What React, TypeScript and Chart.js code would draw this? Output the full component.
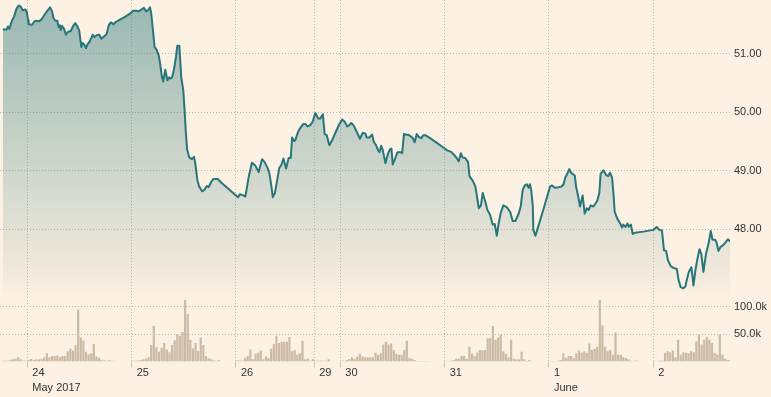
import React, { useEffect, useRef } from 'react';
import { Chart, registerables } from 'chart.js';

Chart.register(...registerables);

// ---- x axis: trading-session slots (one slot = one volume bar) ----
const dayTicks = [0, 40, 80, 110, 120, 160, 200, 240];
const dayLabels = [['24', 'May 2017'], ['25'], ['26'], ['29'], ['30'], ['31'], ['1', 'June'], ['2']];
const xMin = -10.47;
const xMax = 269.4;

// ---- y axes ----
const priceTicks = [48, 49, 50, 51];
const priceMin = 46.79;
const priceMax = 51.924;
const volumeTicks = [50000, 100000];
const volumeMax = 112600;

// ---- price series (slot time, price) ----
const priceTimes = [
  -9.4, -7.9, -7.4, -6.9, -5.9, -5.1, -4.1, -3.3, -2.5, -1.8,
  -0.8, -0.2, 0.3, 0.5, 1.8, 2.8, 3.6, 4.6, 5.6, 6.7,
  7.4, 8.7, 9.5, 10, 10.7, 11.5, 12, 12.5, 12.8, 13.3,
  14.1, 14.8, 15.6, 16.6, 17.6, 18.4, 19.2, 19.9, 20.7, 21.2,
  22, 22.5, 23, 24, 25.1, 25.8, 26.6, 27.6, 28.4, 29.4,
  30.4, 31.2, 32, 33, 34, 35.5, 37.6, 39.6, 40.6, 41.9,
  42.7, 43.7, 44.7, 45.5, 46.3, 47, 47.5, 48.3, 48.8, 49.6,
  50.4, 50.9, 51.6, 52.1, 52.9, 53.7, 54.4, 55, 55.5, 56.2,
  57, 57.5, 58.3, 59, 59.8, 60.3, 60.8, 61.3, 62.1, 63.1,
  63.9, 64.4, 65.2, 65.9, 67, 68, 68.8, 69.5, 70.5, 71.3,
  73.1, 74.1, 77.7, 80.8, 81.5, 82.8, 83.6, 84.9, 86.1, 87.4,
  88.7, 90, 91, 92, 92.8, 93.6, 94.1, 94.9, 95.6, 96.6,
  97.4, 98.2, 99.2, 100.2, 101, 101.5, 102.3, 102.8, 103.8, 104.6,
  105.8, 106.6, 107.4, 108.4, 109.4, 110.4, 111.5, 112.2, 113.3, 114,
  114.8, 115.8, 116.8, 119.4, 120.7, 121.7, 122.7, 123.4, 124.2, 125.2,
  126.3, 127.5, 128.6, 129.6, 130.1, 131.1, 132.2, 132.9, 133.7, 134.5,
  135, 135.7, 136.3, 137.3, 138.3, 139.1, 139.6, 140.1, 141.1, 141.9,
  143.2, 143.7, 144.4, 145.2, 146, 146.7, 147.8, 148.5, 149.3, 150.1,
  151.1, 151.8, 152.6, 154.4, 157, 159.5, 161, 162.3, 163.3, 164.6,
  165.4, 166.2, 166.9, 167.9, 169, 169.5, 170.8, 171.8, 173.1, 173.9,
  174.6, 175.6, 176.4, 177.4, 178.4, 179.2, 180, 180.7, 181.5, 182.5,
  183.8, 185.1, 186.1, 187.1, 188.4, 189.2, 189.9, 190.7, 191.5, 192.2,
  192.7, 193.2, 193.8, 194, 194.8, 195.5, 197.8, 200.4, 201.2, 202.2,
  203.7, 204.7, 205.5, 206.3, 207, 207.8, 208.6, 209.9, 210.4, 211.2,
  211.9, 212.9, 213.7, 214.5, 215.2, 216, 217, 217.8, 218.5, 219.3,
  219.8, 220.9, 221.9, 222.7, 223.4, 224.2, 224.7, 225.2, 226.2, 227.3,
  228, 228.5, 229.3, 230.1, 230.6, 231.4, 232.1, 232.9, 236.2, 240,
  241.3, 242.3, 243.3, 244.1, 244.9, 245.6, 246.7, 247.7, 249, 249.7,
  250.5, 251.5, 252.3, 252.8, 253.6, 254.6, 255.4, 256.1, 256.9, 257.7,
  258.4, 259.2, 260.2, 261.2, 262, 262.7, 263.7, 264.2, 265, 265.8,
  266.8, 267.8, 268.6, 269.4,
];
const prices = [
  51.42, 51.42, 51.47, 51.43, 51.57, 51.64, 51.78, 51.83, 51.81, 51.75,
  51.76, 51.72, 51.58, 51.51, 51.50, 51.56, 51.57, 51.56, 51.60, 51.68,
  51.72, 51.80, 51.73, 51.62, 51.57, 51.57, 51.46, 51.49, 51.41, 51.48,
  51.43, 51.33, 51.38, 51.39, 51.48, 51.53, 51.47, 51.40, 51.12, 51.19,
  51.15, 51.10, 51.16, 51.22, 51.33, 51.29, 51.32, 51.33, 51.26, 51.30,
  51.34, 51.49, 51.54, 51.51, 51.55, 51.59, 51.64, 51.70, 51.74, 51.74,
  51.73, 51.76, 51.79, 51.73, 51.75, 51.80, 51.70, 51.35, 51.12, 51.07,
  50.97, 50.84, 50.61, 50.53, 50.73, 50.55, 50.60, 50.58, 50.60, 50.73,
  50.95, 51.14, 51.14, 50.61, 50.38, 50.04, 49.64, 49.36, 49.23, 49.20,
  49.24, 49.13, 48.84, 48.73, 48.65, 48.68, 48.74, 48.72, 48.81, 48.86,
  48.86, 48.81, 48.67, 48.55, 48.60, 48.58, 48.56, 48.90, 49.14, 49.09,
  48.98, 49.20, 49.15, 49.06, 48.96, 48.73, 48.55, 48.62, 48.79, 49.05,
  49.10, 49.21, 49.04, 49.22, 49.22, 49.57, 49.51, 49.53, 49.67, 49.73,
  49.80, 49.80, 49.76, 49.78, 49.84, 49.99, 49.90, 49.89, 49.97, 49.63,
  49.61, 49.44, 49.52, 49.78, 49.88, 49.84, 49.76, 49.78, 49.82, 49.77,
  49.67, 49.55, 49.65, 49.64, 49.57, 49.57, 49.62, 49.49, 49.44, 49.35,
  49.32, 49.43, 49.35, 49.13, 49.30, 49.37, 49.38, 49.11, 49.22, 49.32,
  49.32, 49.30, 49.63, 49.62, 49.62, 49.60, 49.56, 49.49, 49.63, 49.58,
  49.56, 49.61, 49.61, 49.56, 49.48, 49.40, 49.35, 49.33, 49.29, 49.22,
  49.16, 49.30, 49.23, 49.22, 49.15, 48.91, 48.83, 48.73, 48.36, 48.41,
  48.62, 48.47, 48.33, 48.25, 48.08, 48.09, 47.89, 48.10, 48.28, 48.41,
  48.38, 48.30, 48.14, 48.14, 48.27, 48.40, 48.67, 48.75, 48.77, 48.71,
  48.77, 48.67, 48.39, 47.99, 47.89, 47.99, 48.33, 48.73, 48.75, 48.71,
  48.72, 48.73, 48.76, 48.89, 48.95, 49.03, 48.96, 48.92, 48.73, 48.56,
  48.39, 48.58, 48.27, 48.36, 48.33, 48.41, 48.39, 48.44, 48.49, 48.62,
  48.95, 49.01, 48.93, 48.91, 48.97, 48.88, 48.62, 48.30, 48.18, 48.10,
  48.03, 48.08, 48.04, 48.10, 48.04, 48.08, 47.92, 47.94, 47.96, 47.99,
  48.04, 47.99, 47.98, 47.64, 47.63, 47.47, 47.37, 47.34, 47.32, 47.13,
  47.01, 46.99, 47.02, 47.13, 47.27, 47.35, 47.04, 47.29, 47.49, 47.66,
  47.58, 47.27, 47.58, 47.76, 47.97, 47.82, 47.82, 47.78, 47.63, 47.70,
  47.73, 47.78, 47.83, 47.79,
];

// ---- volume per session slot, thousands of shares ----
const volumeStarts = [-10, 0, 40, 80, 110, 120, 160, 200, 240];
const vol23 = [1.5, 1.5, 1.5, 3, 4, 5, 8, 4, 2, 1.5];
const vol24 = [2.7, 4.6, 2.7, 4, 4, 4.6, 7.6, 15, 7.6, 10, 10, 11, 7.6, 10, 10, 18.6, 23.5, 20, 29.6, 95, 44, 38, 18, 13, 15, 32, 9, 7, 3, 2, 1.5, 2.5, 1.5, 1];
const vol25 = [1.5, 1.5, 2, 2.7, 4, 5, 7.6, 30, 65, 26, 18, 25, 34, 22, 17, 30, 39, 50, 47, 54, 128, 87, 40, 24, 34, 19, 44, 30, 10, 6, 4, 2.5, 1.5, 2.5];
const vol26 = [2, 2, 2, 6.4, 10, 22, 4, 14, 16, 20, 4, 9, 6.4, 23.5, 32, 47, 34, 36, 36, 36, 45, 18.6, 21, 12.5, 15, 38, 4, 5, 1.5, 4];
const vol29 = [1.2, 1.2, 1.2, 1.2, 1.2, 4];
const vol30 = [1.5, 1.5, 2.7, 4.6, 7.6, 5, 9, 14, 9, 7.6, 7.6, 7.6, 7.6, 16, 12.5, 15, 31, 36, 31, 33, 21, 14, 12.5, 12.5, 21, 38, 6.4, 5, 2.7, 1, 1, 1, 1, 0.8];
const vol31 = [0.8, 1, 1.5, 2.7, 5, 5, 10, 10, 5, 27, 14, 10, 16, 21, 20, 21, 42, 43, 65, 40, 44, 49, 18.6, 14, 8, 40, 5, 4, 4, 18, 4, 1, 2.7, 1];
const volJun1 = [0.8, 1, 1, 1.5, 2.7, 15, 6.4, 10, 10, 6.4, 15, 20, 16, 18.6, 16, 33, 21, 23.5, 27, 114, 66, 27, 18.6, 21, 12.5, 53, 12.5, 12.5, 7.6, 6.4, 4, 1.5, 1, 2];
const volJun2 = [1, 1, 1.5, 1.5, 16, 18.6, 17, 20, 8, 40, 12.5, 17, 16, 15, 18.6, 17, 37, 49, 31, 40, 45, 40, 34, 16, 13, 49, 13, 5, 2.7, 2.7];
const volumeDays = [vol23, vol24, vol25, vol26, vol29, vol30, vol31, volJun1, volJun2];

const BG = '#fdf1e3';
const LINE = '#26767b';
const GRID = '#c4b9ad';
const TICK = '#c9c0b6';
const VOL = '#ccbaa6';
const TEXT = '#333333';
const FONT = "'Liberation Sans', Arial, sans-serif";

const fitRightAxis = (s: any) => {
  s.width = 41;
  s.paddingTop = 0;
  s.paddingBottom = 0;
};

export default function App() {
  const ref = useRef<HTMLCanvasElement>(null);

  useEffect(() => {
    document.body.style.margin = '0';
    document.body.style.background = BG;
    const canvas = ref.current;
    if (!canvas) return;

    const priceData = priceTimes.map((t, i) => ({ x: t, y: prices[i] }));
    const volumeData: { x: number; y: number }[] = [];
    volumeDays.forEach((vols, d) => {
      vols.forEach((v, i) => volumeData.push({ x: volumeStarts[d] + i + 0.5, y: v * 1000 }));
    });

    const chart = new Chart(canvas, {
      type: 'line',
      data: {
        datasets: [
          {
            type: 'line',
            data: priceData,
            xAxisID: 'x',
            yAxisID: 'y',
            borderColor: LINE,
            borderWidth: 2,
            pointRadius: 0,
            tension: 0,
            borderJoinStyle: 'round',
            fill: 'start',
            order: 0,
            backgroundColor: (ctx: any) => {
              const chartRef = ctx.chart;
              const area = chartRef.chartArea;
              const ys = chartRef.scales && chartRef.scales.y;
              if (!area || !ys) return 'rgba(0,0,0,0)';
              const g = chartRef.ctx.createLinearGradient(0, area.top, 0, ys.bottom);
              g.addColorStop(0, 'rgba(38,118,123,0.47)');
              g.addColorStop(0.55, 'rgba(38,118,123,0.22)');
              g.addColorStop(0.73, 'rgba(38,118,123,0.14)');
              g.addColorStop(0.87, 'rgba(38,118,123,0.08)');
              g.addColorStop(1, 'rgba(38,118,123,0.0)');
              return g;
            },
          } as any,
          {
            type: 'bar',
            data: volumeData,
            xAxisID: 'x',
            yAxisID: 'v',
            backgroundColor: VOL,
            barPercentage: 1,
            categoryPercentage: 0.85,
            order: 1,
          } as any,
        ],
      },
      options: {
        animation: false,
        responsive: false,
        maintainAspectRatio: false,
        layout: { padding: 0 },
        plugins: { legend: { display: false }, tooltip: { enabled: false } },
        scales: {
          x: {
            type: 'linear',
            position: 'bottom',
            offset: false,
            min: xMin,
            max: xMax,
            afterBuildTicks: (s: any) => {
              s.ticks = dayTicks.map((v) => ({ value: v }));
            },
            afterFit: (s: any) => {
              s.height = 35.5;
              s.paddingLeft = 0;
              s.paddingRight = 0;
            },
            ticks: {
              autoSkip: false,
              maxRotation: 0,
              minRotation: 0,
              align: 'start',
              labelOffset: 5,
              padding: -2,
              color: TEXT,
              font: { family: FONT, size: 11, lineHeight: 1.36 },
              callback: (_v: any, i: number) => dayLabels[i],
            },
            grid: {
              offset: false,
              color: GRID,
              lineWidth: 1,
              drawTicks: true,
              tickLength: 6,
              tickColor: TICK,
              tickBorderDash: [],
            },
            border: { display: false, dash: [1, 2] },
          },
          y: {
            type: 'linear',
            position: 'right',
            stack: 'right',
            stackWeight: 300,
            weight: 0,
            min: priceMin,
            max: priceMax,
            afterBuildTicks: (s: any) => {
              s.ticks = priceTicks.map((v) => ({ value: v }));
            },
            afterFit: fitRightAxis,
            ticks: {
              padding: 4,
              color: TEXT,
              font: { family: FONT, size: 11 },
              callback: (v: any) => Number(v).toFixed(2),
            },
            grid: { color: GRID, lineWidth: 1, drawTicks: false },
            border: { display: false, dash: [1, 2] },
          },
          v: {
            type: 'linear',
            position: 'right',
            stack: 'right',
            stackWeight: 61.5,
            weight: 1,
            min: 0,
            max: volumeMax,
            afterBuildTicks: (s: any) => {
              s.ticks = volumeTicks.map((v) => ({ value: v }));
            },
            afterFit: fitRightAxis,
            ticks: {
              padding: 4,
              color: TEXT,
              font: { family: FONT, size: 11 },
              callback: (v: any) => (Number(v) / 1000).toFixed(1) + 'k',
            },
            grid: { color: GRID, lineWidth: 1, drawTicks: false },
            border: { display: false, dash: [1, 2] },
          },
        },
      } as any,
    });

    return () => chart.destroy();
  }, []);

  return (
    <div style={{ position: 'fixed', left: 0, top: 0, width: 771, height: 397, background: BG }}>
      <canvas ref={ref} width={771} height={397} style={{ width: 771, height: 397, display: 'block' }} />
    </div>
  );
}
